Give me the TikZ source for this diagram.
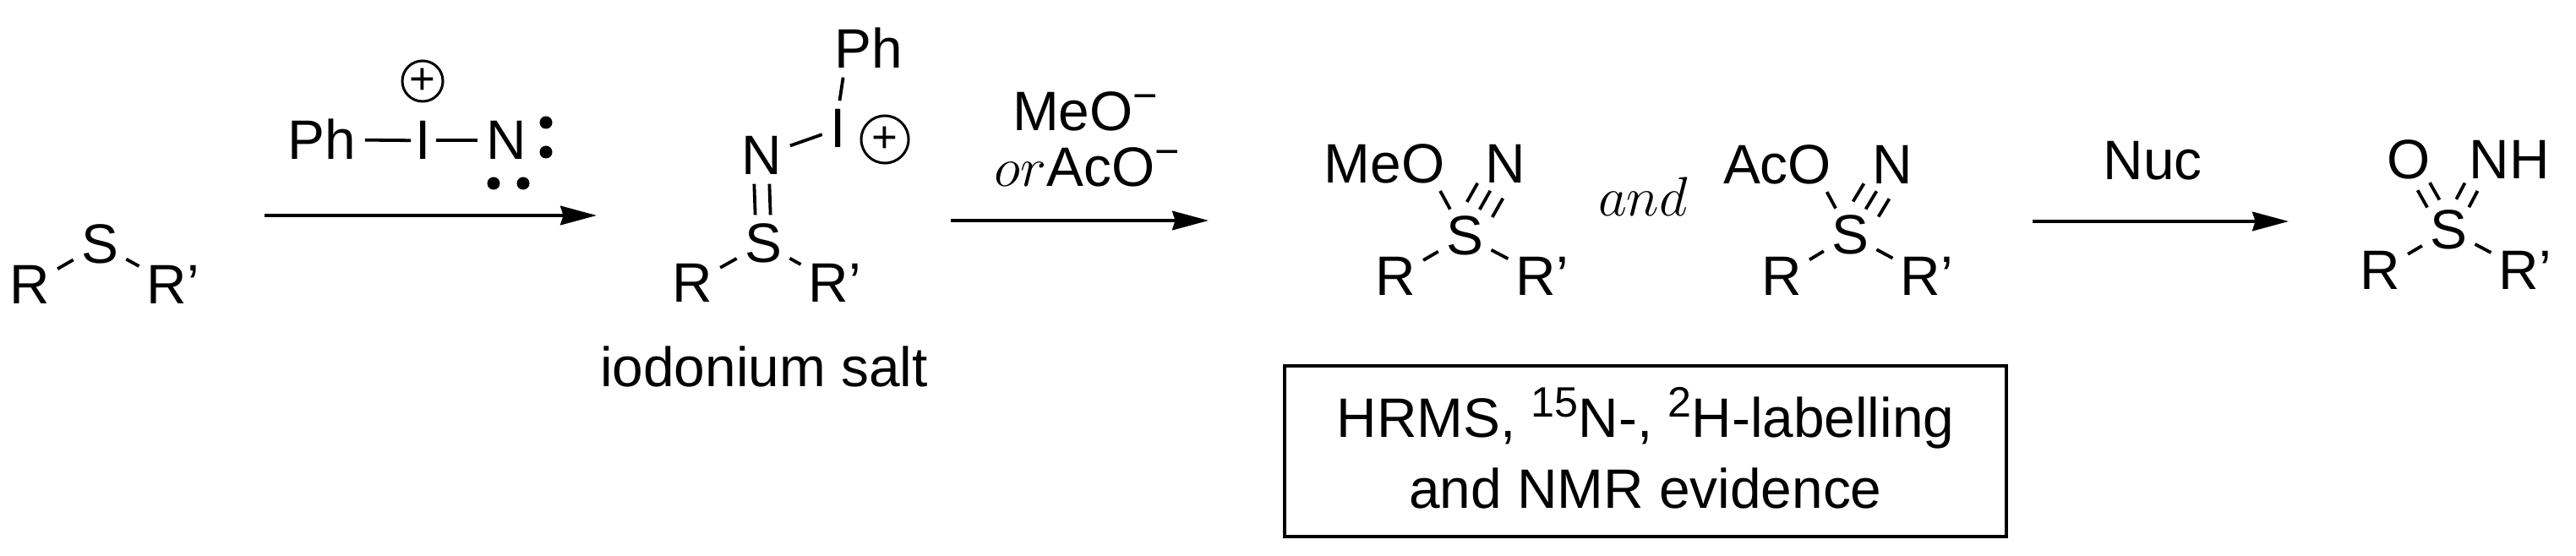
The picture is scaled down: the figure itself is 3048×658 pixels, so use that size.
\documentclass[tikz,border=0pt]{standalone}
\usepackage{fix-cm}
\usepackage{fontspec}
\setmainfont{Liberation Sans}
\usetikzlibrary{arrows.meta}
\newcommand{\sups}[1]{\raisebox{7pt}{\fontsize{14.3}{14.3}\selectfont #1}}

\begin{document}
\begin{tikzpicture}[x=0.01cm, y=-0.01cm,
        every node/.style = {font=\fontsize{18.7}{23.9}\selectfont},
        atom/.style = {inner sep=0pt, anchor=base},
        bond/.style = {line width=0.38mm, shorten <=1mm, shorten >=1mm},
        inbond/.style = {line width=0.38mm, shorten <=3.6mm, shorten >=3.6mm},
        rxn/.style = {line width=0.4mm, -{Stealth[length=12.2pt, width=6.4pt, inset=1pt]}},
        charge/.style = {circle, draw, line width=0.3mm, inner sep=0pt, font=\fontsize{15}{15}\selectfont},
        lonepair/.style = {circle, fill, inner sep=0pt, minimum size=1.5mm},
        evidence/.style = {draw, line width=0.4mm, align=center, minimum width=8.54cm, minimum height=2.02cm}]
    \useasboundingbox (0,0) rectangle (3048,658);

    \node[atom] (R1) at (35,360) {R};
    \node[atom] (S1) at (118,312) {S};
    \node[atom] (Rp1) at (205,360) {R'};
    \draw[bond] (R1) -- (S1);
    \draw[bond] (S1) -- (Rp1);

    \node[atom] (Ph1) at (381,189) {Ph};
    \node[atom] (I1) at (501,189) {I};
    \node[atom] (N1) at (599,189) {N};
    \node[charge, minimum size=4.8mm] (Q1) at (500,96) {+};
    \node[lonepair] (LA) at (646,145) {};
    \node[lonepair] (LB) at (646,180) {};
    \node[lonepair] (LC) at (584,217) {};
    \node[lonepair] (LD) at (619,217) {};
    \draw[bond, shorten >=0.5mm] (Ph1) -- (I1);
    \draw[bond, shorten <=0.5mm] (I1) -- (N1);
    \coordinate (A1s) at (313,255);
    \coordinate (A1e) at (706,255);
    \draw[rxn] (A1s) -- (A1e);

    \node[atom] (Ph2) at (1028,81) {Ph};
    \node[atom] (I2) at (992,175) {I};
    \node[charge, minimum size=5.6mm] (Q2) at (1047,165) {+};
    \node[atom] (N2) at (901,207) {N};
    \node[atom] (S2) at (903,311) {S};
    \node[atom] (R2) at (819,358) {R};
    \node[atom] (Rp2) at (988,358) {R'};
    \node[atom] (Name2) at (904,458) {iodonium salt};
    \draw[bond] (I2.north) -- ([xshift=1.2mm]Ph2.south west);
    \draw[bond] (N2) -- (I2);
    \draw[bond] ([xshift=-0.9mm]N2.south) -- ([xshift=-0.9mm]S2.north);
    \draw[bond] ([xshift=0.9mm]N2.south) -- ([xshift=0.9mm]S2.north);
    \draw[bond] (R2) -- (S2);
    \draw[bond] (S2) -- (Rp2);

    \node[atom] (Me) at (1284,155) {MeO\sups{−}};
    \node[atom] (Ac) at (1286,221) {$or$AcO\sups{−}};
    \coordinate (A2s) at (1125,261);
    \coordinate (A2e) at (1430,261);
    \draw[rxn] (A2s) -- (A2e);

    \node[atom] (MeO3) at (1638,217) {MeO};
    \coordinate (O3) at ([xshift=-2.3mm]MeO3.east);
    \node[atom] (N3) at (1781,217) {N};
    \node[atom] (S3) at (1733,302) {S};
    \node[atom] (R3) at (1651,350) {R};
    \node[atom] (Rp3) at (1825,350) {R’};
    \draw[inbond] (O3) -- (S3.center);
    \draw[inbond] ([shift={(-15,-9)}]N3.center) -- ([shift={(-15,-9)}]S3.center);
    \draw[inbond] (N3.center) -- (S3.center);
    \draw[inbond] ([shift={(15,9)}]N3.center) -- ([shift={(15,9)}]S3.center);
    \draw[bond] (R3) -- (S3);
    \draw[bond] (S3) -- (Rp3);

    \node[atom] (And) at (1944,256) {$and$};

    \node[atom] (AcO4) at (2103,218) {AcO};
    \coordinate (O4) at ([xshift=-2.3mm]AcO4.east);
    \node[atom] (N4) at (2239,218) {N};
    \node[atom] (S4) at (2189,301) {S};
    \node[atom] (R4) at (2108,350) {R};
    \node[atom] (Rp4) at (2280,350) {R'};
    \draw[inbond] (O4) -- (S4.center);
    \draw[inbond] ([shift={(-15,-9)}]N4.center) -- ([shift={(-15,-9)}]S4.center);
    \draw[inbond] (N4.center) -- (S4.center);
    \draw[inbond] ([shift={(15,9)}]N4.center) -- ([shift={(15,9)}]S4.center);
    \draw[bond] (R4) -- (S4);
    \draw[bond] (S4) -- (Rp4);

    \node[evidence] (Box) at (1947,534) {HRMS, \sups{15}N-, \sups{2}H-labelling\\and NMR evidence\rule[-2.4pt]{0pt}{0pt}};

    \node[atom] (Nuc) at (2547,213) {Nuc};
    \coordinate (A3s) at (2405,262);
    \coordinate (A3e) at (2708,262);
    \draw[rxn] (A3s) -- (A3e);

    \node[atom] (O5) at (2850,212) {O};
    \node[atom] (NH5) at (2969,212) {NH};
    \coordinate (N5) at ([xshift=2mm]NH5.west);
    \node[atom] (S5) at (2897,295) {S};
    \node[atom] (R5) at (2816,343) {R};
    \node[atom] (Rp5) at (2988,343) {R'};
    \draw[inbond] ([shift={(7.2,-4.5)}]O5.center) -- ([shift={(7.2,-4.5)}]S5.center);
    \draw[inbond] ([shift={(-7.2,4.5)}]O5.center) -- ([shift={(-7.2,4.5)}]S5.center);
    \draw[inbond] ([shift={(7.5,4.7)}]N5) -- ([shift={(7.5,4.7)}]S5.center);
    \draw[inbond] ([shift={(-7.5,-4.7)}]N5) -- ([shift={(-7.5,-4.7)}]S5.center);
    \draw[bond] (R5) -- (S5);
    \draw[bond] (S5) -- (Rp5);
\end{tikzpicture}
\end{document}
